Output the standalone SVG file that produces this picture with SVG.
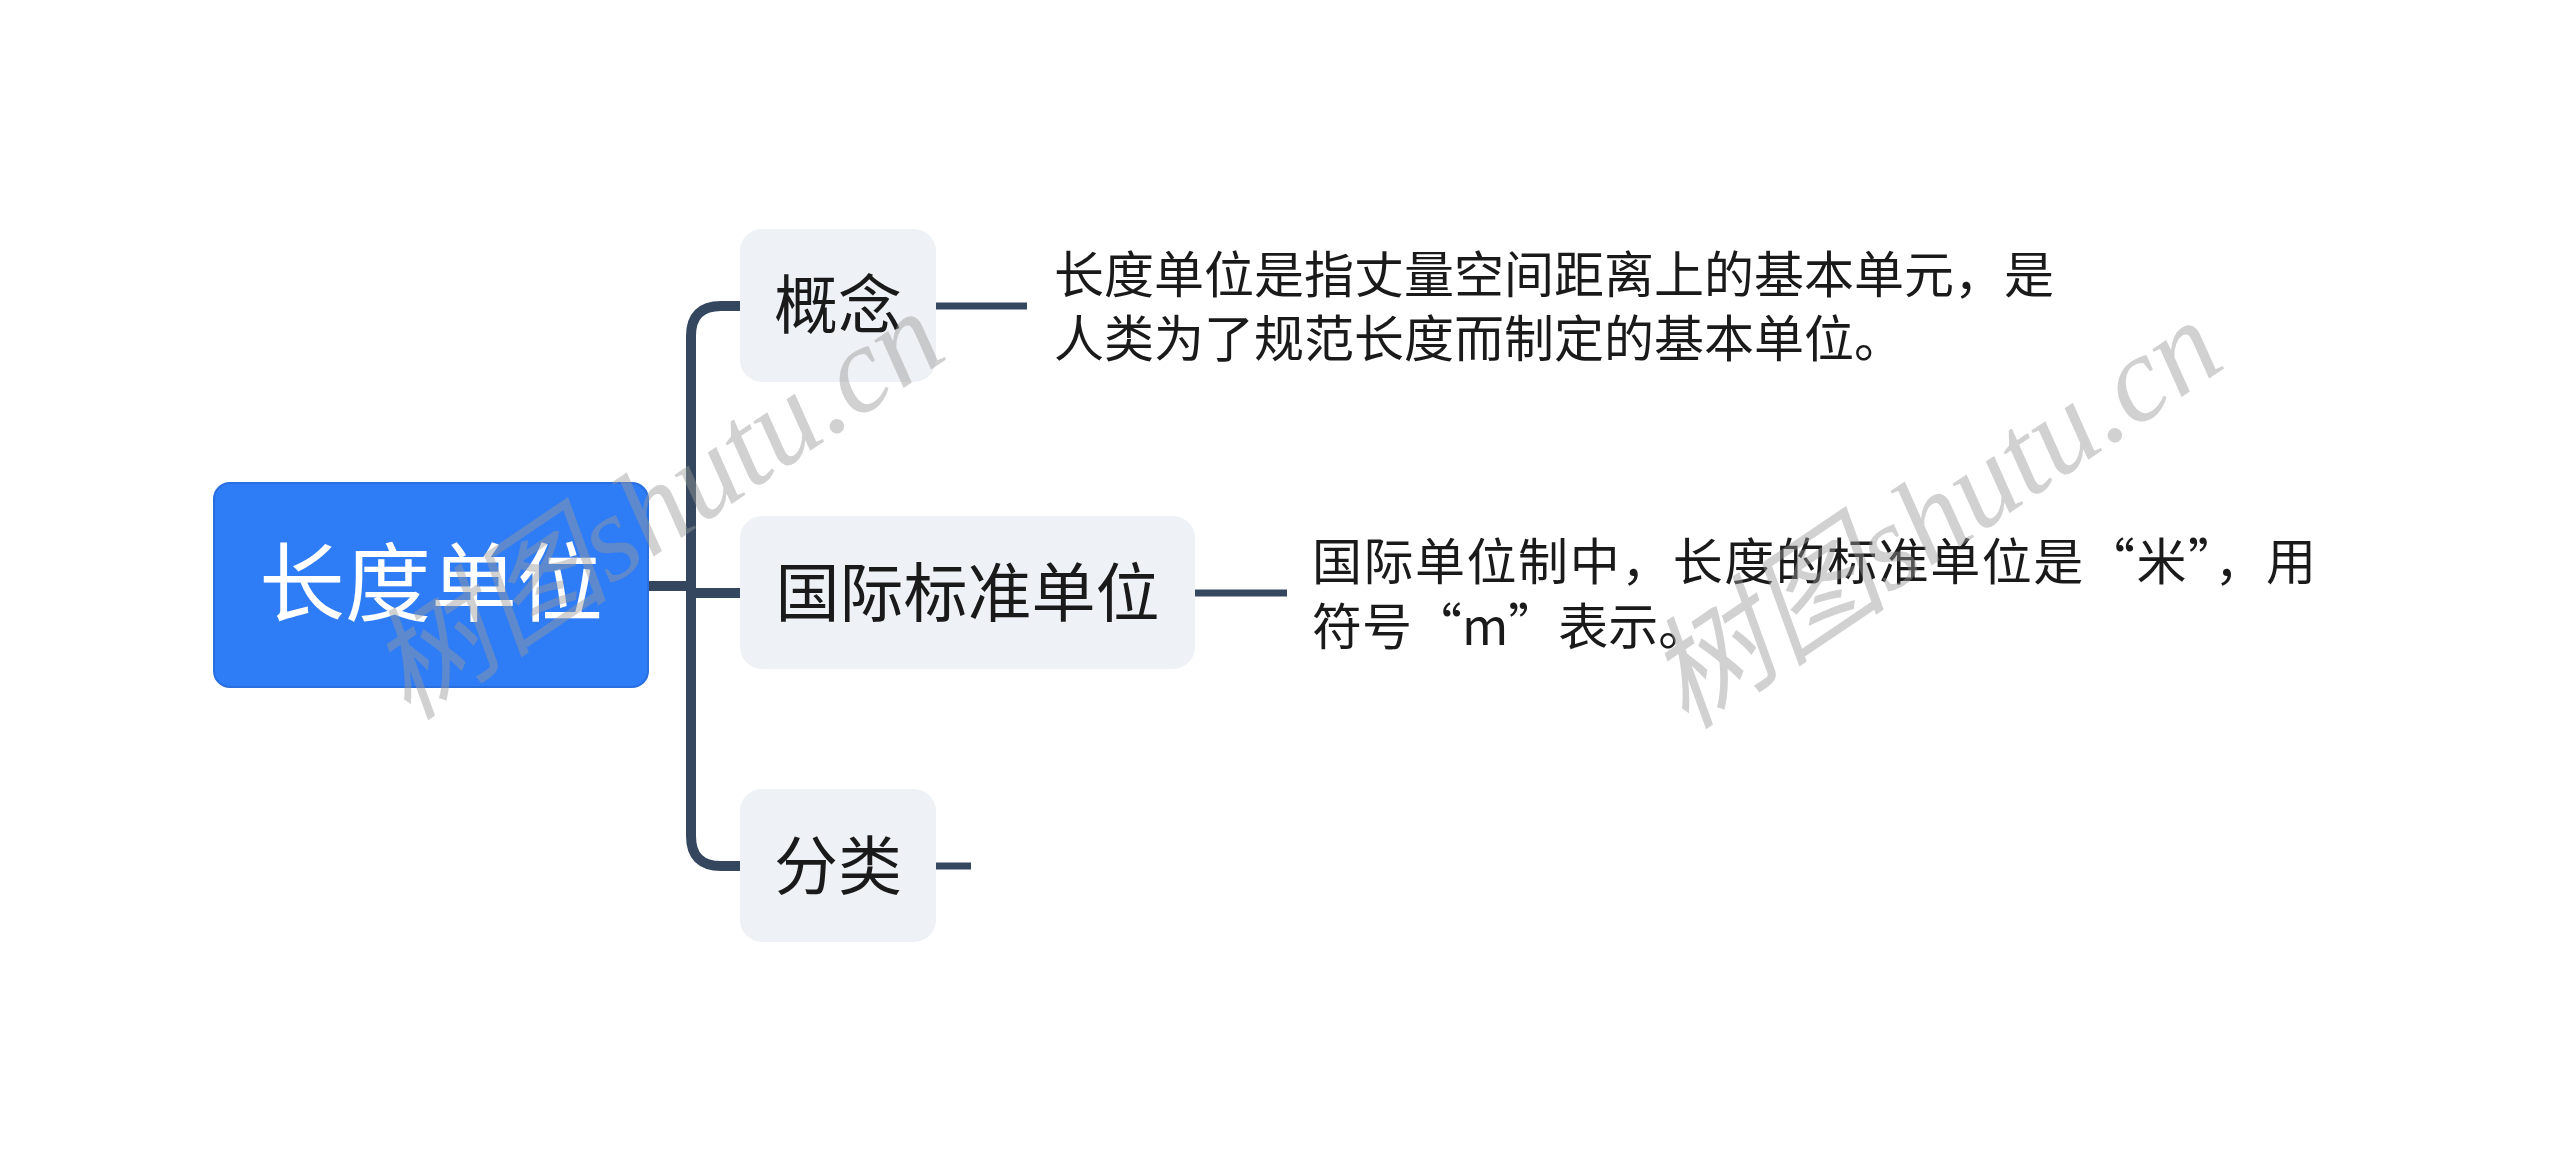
<svg xmlns="http://www.w3.org/2000/svg" width="2560" height="1158" viewBox="0 0 2560 1158">
<style>
.cjk{font-family:"Noto Sans CJK SC","Microsoft YaHei",sans-serif;}
.node{fill:#EEF1F5;}
.ntext{font-size:64px;fill:#1a1a1a;text-anchor:middle;}
.body{font-size:50px;fill:#1a1a1a;}
.conn{fill:none;stroke:#34475F;stroke-width:10;stroke-linecap:butt;}
.stub{fill:none;stroke:#34475F;stroke-width:7;}
.wm{font-family:"Liberation Serif","Noto Sans CJK SC",serif;font-style:italic;font-size:122px;fill:#9a9a9a;fill-opacity:0.45;}
</style>
<rect width="2560" height="1158" fill="#ffffff"/>
<g id="connectors">
<path class="conn" d="M648 586 H696"/>
<path class="conn" d="M740 306 H721 Q691 306 691 336 V836 Q691 866 721 866 H740"/>
<path class="conn" d="M691 593 H740"/>
<path class="stub" d="M936 306 H1027"/>
<path class="stub" d="M1195 593 H1287"/>
<path class="stub" d="M936 866 H971"/>
</g>
<g id="root">
<rect x="214" y="483" width="434" height="204" rx="16" fill="#2E7CF6" stroke="#2A6FE0" stroke-width="2"/>
<text class="cjk" x="431" y="615" font-size="86" fill="#ffffff" text-anchor="middle">长度单位</text>
</g>
<g id="node-gainian">
<rect class="node" x="740" y="229" width="196" height="153" rx="22"/>
<text class="cjk ntext" x="838" y="328">概念</text>
</g>
<g id="node-guoji">
<rect class="node" x="740" y="516" width="455" height="153" rx="22"/>
<text class="cjk ntext" x="967.5" y="616">国际标准单位</text>
</g>
<g id="node-fenlei">
<rect class="node" x="740" y="789" width="196" height="153" rx="22"/>
<text class="cjk ntext" x="838" y="889">分类</text>
</g>
<g id="note-gainian">
<text class="cjk body" x="1054" y="293">长度单位是指丈量空间距离上的基本单元，是</text>
<text class="cjk body" x="1054" y="357">人类为了规范长度而制定的基本单位。</text>
</g>
<g id="note-guoji">
<text class="cjk body" x="1312" y="580" textLength="1004" lengthAdjust="spacing">国际单位制中，长度的标准单位是“米”，用</text>
<text class="cjk body" x="1312" y="645">符号“m”表示。</text>
</g>
<g id="watermarks">
<text class="wm" transform="translate(657 506) rotate(-34)" text-anchor="middle" y="40">树图shutu.cn</text>
<text class="wm" transform="translate(1935 515) rotate(-34)" text-anchor="middle" y="40">树图shutu.cn</text>
</g>
</svg>
